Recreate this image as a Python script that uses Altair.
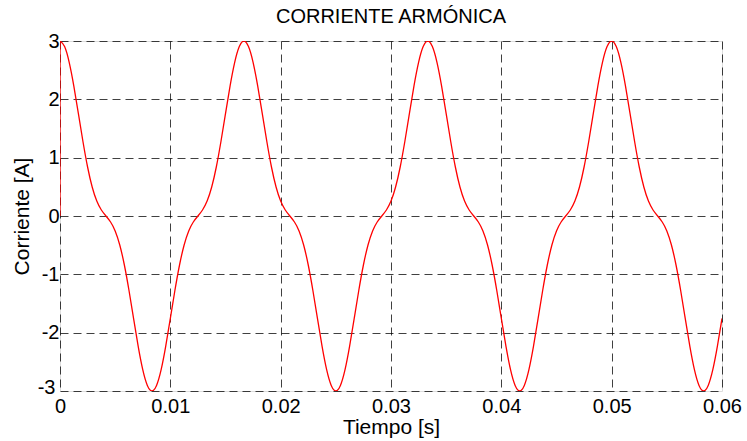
import altair as alt
import pandas as pd

# Sampling step of the reading grid (1/2400 s = 9 degrees at 60 Hz)
t_step = 1.0 / 2400.0

# Current values, one every t_step from t=0 to t=0.06 s
corriente = [
    3.000, 2.905, 2.635, 2.232, 1.756, 1.273, 0.840, 0.497, 0.256, 0.103,
    0.000, -0.103, -0.256, -0.497, -0.840, -1.273, -1.756, -2.232, -2.635, -2.905,
    -3.000, -2.905, -2.635, -2.232, -1.756, -1.273, -0.840, -0.497, -0.256, -0.103,
    0.000, 0.103, 0.256, 0.497, 0.840, 1.273, 1.756, 2.232, 2.635, 2.905,
    3.000, 2.905, 2.635, 2.232, 1.756, 1.273, 0.840, 0.497, 0.256, 0.103,
    0.000, -0.103, -0.256, -0.497, -0.840, -1.273, -1.756, -2.232, -2.635, -2.905,
    -3.000, -2.905, -2.635, -2.232, -1.756, -1.273, -0.840, -0.497, -0.256, -0.103,
    0.000, 0.103, 0.256, 0.497, 0.840, 1.273, 1.756, 2.232, 2.635, 2.905,
    3.000, 2.905, 2.635, 2.232, 1.756, 1.273, 0.840, 0.497, 0.256, 0.103,
    0.000, -0.103, -0.256, -0.497, -0.840, -1.273, -1.756, -2.232, -2.635, -2.905,
    -3.000, -2.905, -2.635, -2.232, -1.756, -1.273, -0.840, -0.497, -0.256, -0.103,
    0.000, 0.103, 0.256, 0.497, 0.840, 1.273, 1.756, 2.232, 2.635, 2.905,
    3.000, 2.905, 2.635, 2.232, 1.756, 1.273, 0.840, 0.497, 0.256, 0.103,
    0.000, -0.103, -0.256, -0.497, -0.840, -1.273, -1.756, -2.232, -2.635, -2.905,
    -3.000, -2.905, -2.635, -2.232, -1.756,
]

# Initial vertical jump at t = 0 (from 0 A up to the first sample)
inicio_t = [0.0, 0.0]
inicio_i = [0.0, 3.0]

x_ticks = [0, 0.01, 0.02, 0.03, 0.04, 0.05, 0.06]
y_ticks = [-3, -2, -1, 0, 1, 2, 3]

rows = [{"t": a, "i": b, "seg": 0} for a, b in zip(inicio_t, inicio_i)]
rows += [{"t": k * t_step, "i": v, "seg": 1} for k, v in enumerate(corriente)]
df = pd.DataFrame(rows)

FONT = "Liberation Sans"

grid_style = dict(
    grid=True,
    gridColor="#000000",
    gridOpacity=0.75,
    gridDash=[8, 5],
    gridWidth=1,
    ticks=False,
    domain=False,
    labelFontSize=20,
    labelColor="#000000",
    labelFont=FONT,
    titleFont=FONT,
    titleFontSize=21,
    titleFontWeight="normal",
    titleColor="#000000",
    labelFlush=False,
)

chart = (
    alt.Chart(df)
    .mark_line(color="#ff0000", strokeWidth=1.3, interpolate="natural", clip=True)
    .encode(
        x=alt.X(
            "t:Q",
            scale=alt.Scale(domain=[0, 0.06], nice=False, zero=False),
            axis=alt.Axis(
                title="Tiempo [s]",
                values=x_ticks,
                labelExpr="'' + datum.value",
                labelPadding=5,
                titlePadding=0,
                **grid_style,
            ),
        ),
        y=alt.Y(
            "i:Q",
            scale=alt.Scale(domain=[-3, 3], nice=False, zero=False),
            axis=alt.Axis(
                title="Corriente [A]",
                values=y_ticks,
                labelExpr="'' + datum.value",
                labelPadding=alt.ConditionalAxisNumber(
                    condition={"test": "datum.value == -3", "value": 5},
                    value=1,
                ),
                labelOffset=alt.ConditionalAxisNumber(
                    condition={"test": "datum.value == -3", "value": -4},
                    value=0,
                ),
                titlePadding=5,
                **grid_style,
            ),
        ),
        detail="seg:N",
    )
    .properties(
        width=662,
        height=350,
        title=alt.TitleParams(
            "CORRIENTE ARMÓNICA",
            font=FONT,
            fontSize=20,
            fontWeight="normal",
            color="#000000",
            anchor="middle",
            offset=4,
        ),
        autosize=alt.AutoSizeParams(type="none"),
        padding={"left": 60, "top": 41, "right": 25, "bottom": 50},
    )
    .configure_view(stroke="#000000", strokeWidth=1.2)
    .configure(background="#ffffff")
)

chart.save("out.html", embed_options={"renderer": "svg", "actions": False})
